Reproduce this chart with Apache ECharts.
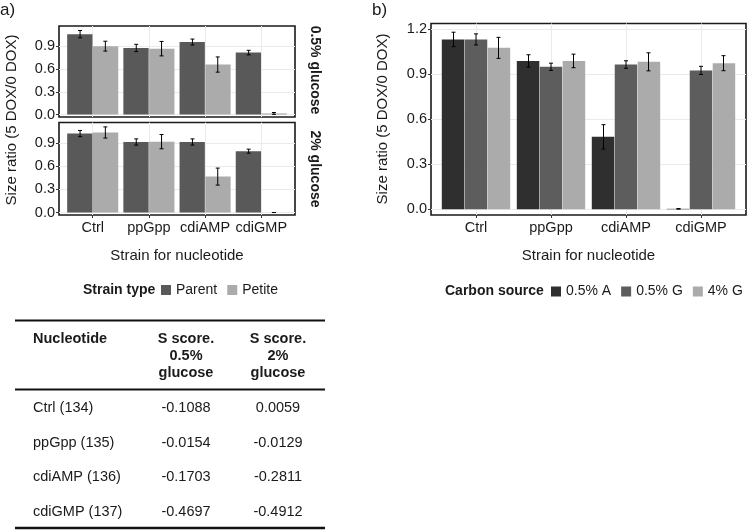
<!DOCTYPE html>
<html><head><meta charset="utf-8">
<script src="https://cdn.jsdelivr.net/npm/echarts@6/dist/echarts.min.js"></script>
<style>html,body{margin:0;padding:0;background:#fff}#c{width:750px;height:532px}</style>
</head><body><div id="c"></div>
<script>
// ---------- data ----------
const categories = ['Ctrl', 'ppGpp', 'cdiAMP', 'cdiGMP'];
const yTicksA = [0, 0.3, 0.6, 0.9];
const yTicksB = [0, 0.3, 0.6, 0.9, 1.2];
const strainTypes = ['Parent', 'Petite'];
const carbonSources = ['0.5% A', '0.5% G', '4% G'];
const facetLabels = ['0.5% glucose', '2% glucose'];

// panel a, 0.5% glucose
const parent05 = [1.058, 0.876, 0.954, 0.815];
const parent05Err = [0.048, 0.048, 0.039, 0.03];
const petite05 = [0.90, 0.867, 0.658, 0.015];
const petite05Err = [0.065, 0.095, 0.10, 0.012];
// panel a, 2% glucose
const parent2 = [1.022, 0.913, 0.913, 0.794];
const parent2Err = [0.04, 0.04, 0.04, 0.026];
const petite2 = [1.036, 0.917, 0.465, 0.0];
const petite2Err = [0.072, 0.092, 0.11, 0.0];
// panel b
const carbonA = [1.13, 0.987, 0.482, 0.003];
const carbonAErr = [0.048, 0.041, 0.081, 0.002];
const carbonG = [1.13, 0.948, 0.963, 0.924];
const carbonGErr = [0.037, 0.024, 0.025, 0.027];
const carbon4G = [1.074, 0.987, 0.981, 0.972];
const carbon4GErr = [0.07, 0.045, 0.06, 0.05];

// table
const tableHeaders = ['Nucleotide', 'S score.\n0.5%\nglucose', 'S score.\n2%\nglucose'];
const tableNames = ['Ctrl (134)', 'ppGpp (135)', 'cdiAMP (136)', 'cdiGMP (137)'];
const sScore05 = [-0.1088, -0.0154, -0.1703, -0.4697];
const sScore2 = [0.0059, -0.0129, -0.2811, -0.4912];

// ---------- styling ----------
const FONT = '"Liberation Sans", Arial, sans-serif';
const TXT = '#1a1a1a';
const GRIDC = '#ebebeb';
const colParent = '#595959', colPetite = '#ababab';
const colA = '#2f2f2f', colG = '#5d5d5d', col4G = '#ababab';
const catIdx = categories.map((c, i) => i);

function xAx(gridIndex, showLabels, name) {
  return {
    type: 'value', gridIndex, min: -0.6, max: 3.6,
    axisLine: { show: false, onZero: false },
    axisTick: { show: showLabels, customValues: catIdx, length: 3, lineStyle: { color: '#333' } },
    axisLabel: { show: showLabels, customValues: catIdx, formatter: v => categories[Math.round(v)],
      fontSize: 14.5, color: TXT, margin: 5, fontFamily: FONT },
    splitLine: { show: true, lineStyle: { color: GRIDC, width: 1 } },
    name: name || '', nameLocation: 'middle', nameGap: 33,
    nameTextStyle: { fontSize: 15, color: TXT, fontFamily: FONT }
  };
}
function yAx(gridIndex, min, max, ticks) {
  return {
    type: 'value', gridIndex, min, max,
    axisLine: { show: false, onZero: false },
    axisTick: { show: true, customValues: ticks, length: 3, lineStyle: { color: '#333' } },
    axisLabel: { customValues: ticks, formatter: v => v.toFixed(1), fontSize: 14.5, color: TXT, margin: 4, fontFamily: FONT },
    splitLine: { show: true, lineStyle: { color: GRIDC, width: 1 } }
  };
}
function bars(name, vals, color, xi, width) {
  return {
    type: 'bar', name, xAxisIndex: xi, yAxisIndex: xi,
    data: vals.map((v, i) => [i, v]),
    barWidth: width, barGap: '2%',
    itemStyle: { color }, silent: true, z: 2
  };
}
function errs(vals, e, offset, xi) {
  return {
    type: 'custom', xAxisIndex: xi, yAxisIndex: xi, silent: true, z: 5,
    encode: { x: 0, y: [1, 2] },
    data: vals.map((v, i) => [i + offset, v - e[i], v + e[i]]),
    renderItem(params, api) {
      const lo = api.coord([api.value(0), api.value(1)]);
      const hi = api.coord([api.value(0), api.value(2)]);
      const w = 2;
      const st = { stroke: '#000', lineWidth: 1 };
      return { type: 'group', children: [
        { type: 'line', shape: { x1: lo[0], y1: lo[1], x2: hi[0], y2: hi[1] }, style: st },
        { type: 'line', shape: { x1: lo[0] - w, y1: lo[1], x2: lo[0] + w, y2: lo[1] }, style: st },
        { type: 'line', shape: { x1: hi[0] - w, y1: hi[1], x2: hi[0] + w, y2: hi[1] }, style: st }
      ]};
    }
  };
}

// ---------- text / table graphics ----------
const graphics = [];
function txt(x, y, text, opts) {
  graphics.push({ type: 'text', x, y, silent: true, rotation: opts.rot || 0,
    style: Object.assign({ text, fontFamily: FONT, fontSize: 14.5, fill: TXT, align: 'left', verticalAlign: 'middle' }, opts.style || {}) });
}
function hline(y, w) {
  graphics.push({ type: 'line', silent: true, shape: { x1: 15, y1: y, x2: 325, y2: y }, style: { stroke: '#111', lineWidth: w } });
}
txt(0, 10, 'a)', { style: { fontSize: 17 } });
txt(372, 10, 'b)', { style: { fontSize: 17 } });
txt(12, 120, 'Size ratio (5 DOX/0 DOX)', { rot: Math.PI / 2, style: { align: 'center', fontSize: 15 } });
txt(383, 119, 'Size ratio (5 DOX/0 DOX)', { rot: Math.PI / 2, style: { align: 'center', fontSize: 15 } });
txt(315, 70, facetLabels[0], { rot: -Math.PI / 2, style: { align: 'center', fontWeight: 'bold', fontSize: 14 } });
txt(315, 169, facetLabels[1], { rot: -Math.PI / 2, style: { align: 'center', fontWeight: 'bold', fontSize: 14 } });
txt(83, 290, 'Strain type', { style: { fontWeight: 'bold', fontSize: 14 } });
txt(445, 291.5, 'Carbon source', { style: { fontWeight: 'bold', fontSize: 14 } });

hline(320.5, 2);
hline(389.5, 2);
hline(528, 2.5);
txt(33, 338.5, tableHeaders[0], { style: { fontWeight: 'bold' } });
txt(186, 355.5, tableHeaders[1], { style: { fontWeight: 'bold', align: 'center', lineHeight: 17 } });
txt(278, 355.5, tableHeaders[2], { style: { fontWeight: 'bold', align: 'center', lineHeight: 17 } });
tableNames.forEach((n, i) => {
  const y = 408.3 + i * 34.5;
  txt(33, y, n, {});
  txt(186, y, sScore05[i].toFixed(4), { style: { align: 'center' } });
  txt(278, y, sScore2[i].toFixed(4), { style: { align: 'center' } });
});

// ---------- chart ----------
const chart = echarts.init(document.getElementById('c'), null, { renderer: 'canvas' });
const gridStyle = { show: true, borderColor: '#1a1a1a', borderWidth: 1.6, backgroundColor: 'transparent', containLabel: false };
const option = {
  animation: false,
  textStyle: { fontFamily: FONT },
  grid: [
    Object.assign({ left: 59, top: 26, width: 236, height: 91 }, gridStyle),
    Object.assign({ left: 59, top: 122.5, width: 236, height: 92.5 }, gridStyle),
    Object.assign({ left: 431, top: 23.5, width: 315, height: 191.5 }, gridStyle)
  ],
  xAxis: [xAx(0, false), xAx(1, true, 'Strain for nucleotide'), xAx(2, true, 'Strain for nucleotide')],
  yAxis: [yAx(0, -0.032, 1.165, yTicksA), yAx(1, -0.032, 1.165, yTicksA), yAx(2, -0.038, 1.236, yTicksB)],
  legend: [
    { left: 161, top: 283, width: 200, padding: 0, data: strainTypes, icon: 'rect',
      itemWidth: 10, itemHeight: 10, itemGap: 10,
      selectedMode: false, textStyle: { fontSize: 14, color: TXT, fontFamily: FONT } },
    { left: 551, top: 284.5, width: 200, padding: 0, data: carbonSources, icon: 'rect',
      itemWidth: 10, itemHeight: 10, itemGap: 10,
      selectedMode: false, textStyle: { fontSize: 14, color: TXT, fontFamily: FONT } }
  ],
  series: [
    bars(strainTypes[0], parent05, colParent, 0, '45%'),
    bars(strainTypes[1], petite05, colPetite, 0, '45%'),
    bars(strainTypes[0], parent2, colParent, 1, '45%'),
    bars(strainTypes[1], petite2, colPetite, 1, '45%'),
    bars(carbonSources[0], carbonA, colA, 2, '30%'),
    bars(carbonSources[1], carbonG, colG, 2, '30%'),
    bars(carbonSources[2], carbon4G, col4G, 2, '30%'),
    errs(parent05, parent05Err, -0.225, 0),
    errs(petite05, petite05Err, 0.225, 0),
    errs(parent2, parent2Err, -0.225, 1),
    errs(petite2, petite2Err, 0.225, 1),
    errs(carbonA, carbonAErr, -0.3, 2),
    errs(carbonG, carbonGErr, 0, 2),
    errs(carbon4G, carbon4GErr, 0.3, 2)
  ],
  graphic: graphics
};
chart.setOption(option);
</script>
</body></html>
